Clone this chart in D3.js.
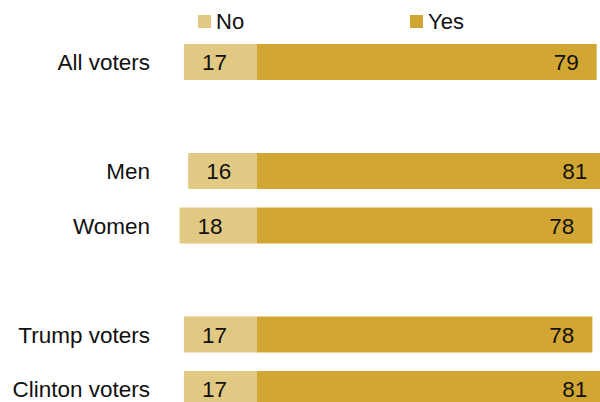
<!DOCTYPE html>
<html><head><meta charset="utf-8">
<script src="https://cdn.jsdelivr.net/npm/d3@7"></script>
<style>body{margin:0;background:#fff}svg{display:block}text{font-family:"Liberation Sans",Arial,sans-serif;fill:#111}</style>
</head><body>
<script>
const categories = ["All voters", "", "Men", "Women", " ", "Trump voters", "Clinton voters"];
const noValues  = [17, null, 16, 18, null, 17, 17];
const yesValues = [79, null, 81, 78, null, 78, 81];
const seriesNames = ["No", "Yes"];
const colors = {No: "#E2C983", Yes: "#D2A632"};

const W = 600, H = 402;
const svg = d3.select("body").append("svg").attr("width", W).attr("height", H);

const center = 257, unit = 4.3;
const xNo = d3.scaleLinear().domain([0, 100]).range([center, center - 100 * unit]);
const xYes = d3.scaleLinear().domain([0, 100]).range([center, center + 100 * unit]);
const y = d3.scaleBand().domain(categories).range([44 - 9.25, 44 - 9.25 + 7 * 54.5]).paddingInner(0.3395).paddingOuter(0.17);

const rows = categories.map((c, i) => ({c, no: noValues[i], yes: yesValues[i]})).filter(d => d.no != null);

const g = svg.append("g");
rows.forEach(d => {
  const yy = y(d.c), bh = y.bandwidth();
  g.append("rect").attr("x", xNo(d.no)).attr("y", yy).attr("width", xNo(0) - xNo(d.no)).attr("height", bh).attr("fill", colors.No);
  g.append("rect").attr("x", xYes(0)).attr("y", yy).attr("width", xYes(d.yes) - xYes(0)).attr("height", bh).attr("fill", colors.Yes);
  g.append("text").attr("x", xNo(d.no) + 18).attr("y", yy + bh / 2).attr("dy", "0.36em").attr("font-size", 22.5).text(d.no);
  g.append("text").attr("x", xYes(d.yes) - 18).attr("y", yy + bh / 2).attr("dy", "0.36em").attr("text-anchor", "end").attr("font-size", 22.5).text(d.yes);
  g.append("text").attr("x", 150).attr("y", yy + bh / 2).attr("dy", "0.36em").attr("text-anchor", "end").attr("font-size", 22.5).text(d.c);
});

// legend
const legendX = [198, 410];
seriesNames.forEach((s, i) => {
  svg.append("rect").attr("x", legendX[i]).attr("y", 15).attr("width", 13).attr("height", 13).attr("fill", colors[s]);
  svg.append("text").attr("x", legendX[i] + 18).attr("y", 28.5).attr("font-size", 22).text(s);
});
</script>
</body></html>
